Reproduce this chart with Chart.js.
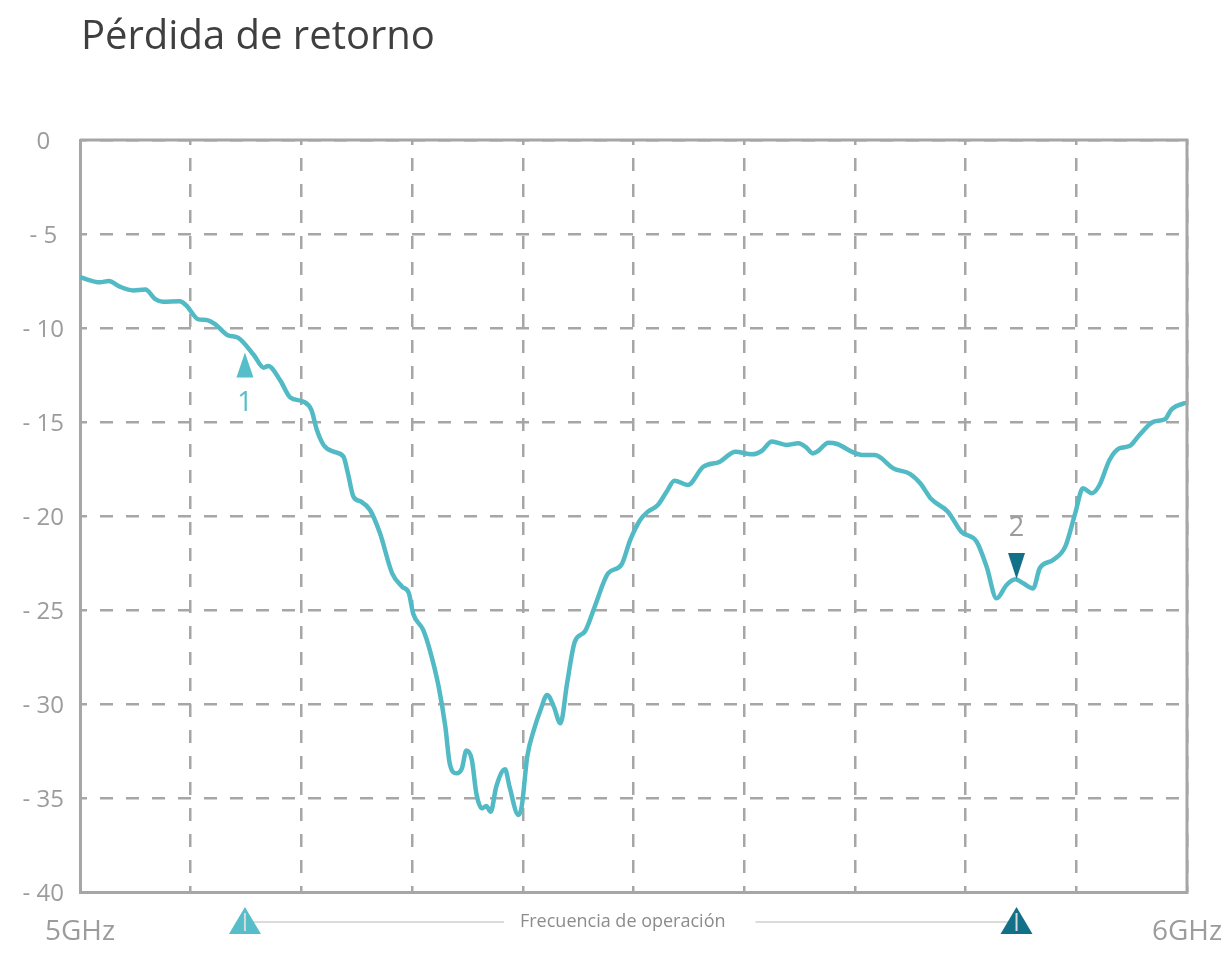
<!DOCTYPE html>
<html>
<head>
<meta charset="utf-8">
<script src="https://cdn.jsdelivr.net/npm/chart.js@4.4.0/dist/chart.umd.min.js"></script>
<style>
  html, body { margin: 0; padding: 0; background: #fff; }
  #wrap { width: 1229px; height: 962px; }
</style>
</head>
<body>
<div id="wrap"><canvas id="returnLossChart" width="1229" height="962"></canvas></div>
<script>
const title = 'Pérdida de retorno';
const bandLabel = 'Frecuencia de operación';

// frequency in MHz, return loss in dB
const freqMHz = [
  5000, 5018, 5026, 5036, 5048, 5059, 5068, 5075, 5090, 5096,
  5107, 5114, 5122, 5133, 5143, 5157, 5166, 5170, 5181, 5190,
  5202, 5209, 5214, 5220, 5229, 5238, 5242, 5247, 5254, 5262,
  5271, 5282, 5291, 5297, 5301, 5310, 5316, 5324, 5330, 5334,
  5340, 5345, 5349, 5354, 5358, 5363, 5367, 5371, 5376, 5384,
  5388, 5396, 5399, 5404, 5410, 5416, 5422, 5428, 5434, 5440,
  5447, 5456, 5465, 5477, 5489, 5497, 5506, 5513, 5522, 5530,
  5537, 5549, 5563, 5578, 5592, 5607, 5616, 5625, 5638, 5649,
  5656, 5662, 5667, 5676, 5684, 5699, 5708, 5718, 5735, 5750,
  5759, 5769, 5784, 5796, 5810, 5819, 5828, 5837, 5845, 5852,
  5861, 5867, 5879, 5890, 5899, 5906, 5914, 5921, 5930, 5939,
  5948, 5957, 5970, 5980, 5986, 5998, 6000
];
const lossDb = [
  -7.3, -7.57, -7.5, -7.8, -8.0, -7.95, -8.46, -8.6, -8.58, -8.8,
  -9.54, -9.57, -9.79, -10.37, -10.53, -11.44, -12.11, -12.02, -12.8, -13.7,
  -13.92, -14.36, -15.43, -16.22, -16.58, -16.84, -17.73, -18.97, -19.24, -19.68,
  -20.92, -23.05, -23.76, -24.1, -25.2, -26.06, -27.13, -29.08, -31.2, -33.16,
  -33.69, -33.42, -32.48, -32.98, -34.75, -35.55, -35.43, -35.73, -34.4, -33.47,
  -34.4, -35.9, -35.46, -32.8, -31.38, -30.32, -29.52, -30.14, -31.03, -28.9,
  -26.68, -26.15, -24.82, -23.05, -22.6, -21.28, -20.21, -19.77, -19.41, -18.7,
  -18.12, -18.35, -17.38, -17.11, -16.58, -16.72, -16.53, -16.04, -16.22, -16.13,
  -16.35, -16.67, -16.53, -16.1, -16.17, -16.63, -16.76, -16.76, -17.47, -17.77,
  -18.26, -19.1, -19.77, -20.83, -21.37, -22.7, -24.38, -23.67, -23.37, -23.58,
  -23.85, -22.78, -22.34, -21.63, -19.86, -18.53, -18.79, -18.35, -17.02, -16.4,
  -16.28, -15.69, -14.98, -14.86, -14.33, -14.0, -13.98
];

// band markers
const markerNames = ['1', '2'];
const markerFreq = [5149, 5846];
const markerLoss = [-11.3, -23.35];
const markerColors = ['#55bec8', '#127088'];

const lineColor = '#52bac4';
const gridColor = '#a6a6a6';
const textGrey = '#9c9c9c';
const font = '"Open Sans", "Noto Sans", sans-serif';

const extrasPlugin = {
  id: 'extras',
  afterDraw(chart) {
    const ctx = chart.ctx;
    const area = chart.chartArea;
    const xs = chart.scales.x, ys = chart.scales.y;
    ctx.save();

    // title
    ctx.fillStyle = '#3f3f3f';
    ctx.font = '40px ' + font;
    ctx.textAlign = 'left';
    ctx.textBaseline = 'alphabetic';
    ctx.fillText(title, area.left + 1, 49);

    // top and right frame
    ctx.strokeStyle = gridColor;
    ctx.lineWidth = 3;
    ctx.beginPath();
    ctx.moveTo(area.left, area.top);
    ctx.lineTo(area.right, area.top);
    ctx.lineTo(area.right, area.bottom);
    ctx.stroke();

    // markers on the curve
    markerFreq.forEach((f, i) => {
      const px = xs.getPixelForValue(f);
      const py = ys.getPixelForValue(markerLoss[i]);
      ctx.fillStyle = markerColors[i];
      ctx.beginPath();
      if (i === 0) {
        ctx.moveTo(px, py);
        ctx.lineTo(px + 8.5, py + 25);
        ctx.lineTo(px - 8.5, py + 25);
      } else {
        ctx.moveTo(px, py);
        ctx.lineTo(px + 8.5, py - 26);
        ctx.lineTo(px - 8.5, py - 26);
      }
      ctx.closePath();
      ctx.fill();
      ctx.font = '27px ' + font;
      ctx.textAlign = 'center';
      ctx.textBaseline = 'middle';
      ctx.fillStyle = i === 0 ? markerColors[0] : textGrey;
      ctx.fillText(markerNames[i], px, i === 0 ? py + 51 : py - 51);
    });

    // operating band bar under the axis
    const x1 = xs.getPixelForValue(markerFreq[0]);
    const x2 = xs.getPixelForValue(markerFreq[1]);
    const barY = area.bottom + 30;
    ctx.font = '18px ' + font;
    const tw = ctx.measureText(bandLabel).width;
    const tx = (x1 + x2) / 2 - 8;
    ctx.strokeStyle = '#cfcfcf';
    ctx.lineWidth = 1.5;
    ctx.beginPath();
    ctx.moveTo(x1, barY);
    ctx.lineTo(tx - tw / 2 - 16, barY);
    ctx.moveTo(tx + tw / 2 + 30, barY);
    ctx.lineTo(x2, barY);
    ctx.stroke();
    ctx.fillStyle = '#8c8c8c';
    ctx.textAlign = 'center';
    ctx.textBaseline = 'middle';
    ctx.fillText(bandLabel, tx, barY);

    [x1, x2].forEach((px, i) => {
      ctx.fillStyle = markerColors[i];
      ctx.beginPath();
      ctx.moveTo(px, area.bottom + 15);
      ctx.lineTo(px + 16, area.bottom + 42);
      ctx.lineTo(px - 16, area.bottom + 42);
      ctx.closePath();
      ctx.fill();
      ctx.strokeStyle = '#d9d9d9';
      ctx.lineWidth = 2;
      ctx.beginPath();
      ctx.moveTo(px, area.bottom + 21);
      ctx.lineTo(px, area.bottom + 39);
      ctx.stroke();
    });
    ctx.restore();
  }
};

const ctx = document.getElementById('returnLossChart').getContext('2d');
const chart = new Chart(ctx, {
  type: 'line',
  data: {
    datasets: [{
      label: title,
      data: freqMHz.map((f, i) => ({ x: f, y: lossDb[i] })),
      borderColor: lineColor,
      borderWidth: 4.5,
      pointRadius: 0,
      cubicInterpolationMode: 'monotone',
      fill: false
    }]
  },
  options: {
    responsive: false,
    animation: false,
    layout: { padding: { top: 140, right: 42, left: 0, bottom: 0 } },
    plugins: {
      legend: { display: false },
      tooltip: { enabled: false }
    },
    scales: {
      x: {
        type: 'linear',
        min: 5000,
        max: 6000,
        afterFit(scale) {
          scale.height = 70;
          scale.paddingLeft = 0;
          scale.paddingRight = 0;
        },
        grid: { color: gridColor, lineWidth: 2.5, drawTicks: false },
        border: { color: gridColor, width: 3, dash: [13, 13], dashOffset: 8 },
        ticks: {
          stepSize: 100,
          autoSkip: false,
          maxRotation: 0,
          padding: 23,
          color: textGrey,
          font: { family: font, size: 28 },
          callback: v => (v === 5000 ? '5GHz' : v === 6000 ? '6GHz' : '')
        }
      },
      y: {
        min: -40,
        max: 0,
        afterFit(scale) {
          scale.width = 80;
          scale.paddingTop = 0;
          scale.paddingBottom = 0;
        },
        grid: { color: gridColor, lineWidth: 2.5, drawTicks: false },
        border: { color: gridColor, width: 3, dash: [13, 13], dashOffset: 8 },
        ticks: {
          stepSize: 5,
          crossAlign: 'center',
          padding: 16,
          labelOffset: 2,
          color: textGrey,
          font: { family: font, size: 24 },
          callback: v => (v === 0 ? '0' : '- ' + Math.abs(v))
        }
      }
    }
  },
  plugins: [extrasPlugin]
});
</script>
</body>
</html>
